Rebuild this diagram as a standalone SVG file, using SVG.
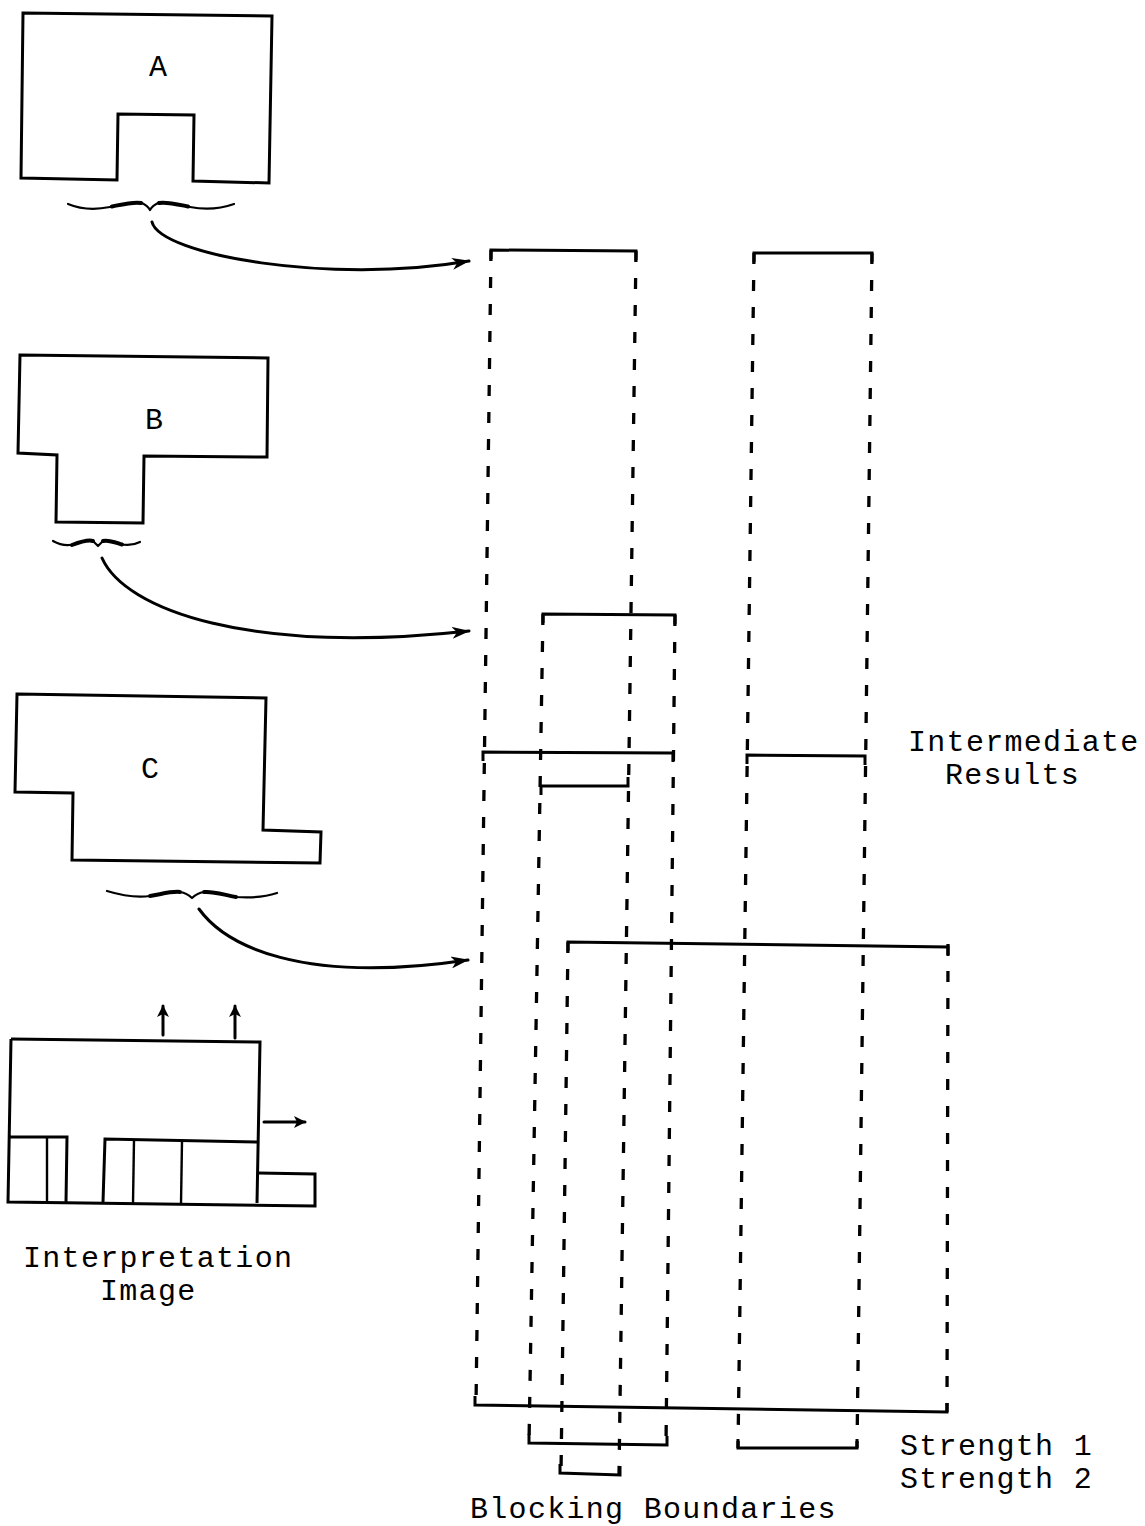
<svg xmlns="http://www.w3.org/2000/svg" width="1145" height="1526" viewBox="0 0 1145 1526">
  <defs>
    <style>
      .outline { fill: none; stroke: #000; stroke-width: 3; stroke-linejoin: miter; }
      .thin { fill: none; stroke: #000; stroke-width: 2.4; }
      .brace { fill: none; stroke: #000; stroke-width: 2.2; stroke-linecap: round; stroke-linejoin: round; }
      .brace-bold { fill: none; stroke: #000; stroke-width: 4; stroke-linecap: round; }
      .bracket { fill: none; stroke: #000; stroke-width: 3; stroke-linejoin: miter; }
      .dash { fill: none; stroke: #000; stroke-width: 3.3; stroke-dasharray: 11 16; }
      .curve { fill: none; stroke: #000; stroke-width: 3; stroke-linecap: round; }
      .label { font-family: "Liberation Mono", "DejaVu Sans Mono", monospace; font-size: 30px; letter-spacing: 1.3px; fill: #000; }
    </style>
    <marker id="head" viewBox="0 0 18 12" refX="17" refY="6" markerWidth="18" markerHeight="12" markerUnits="userSpaceOnUse" orient="auto">
      <path d="M0,0 L18,6 L0,12 L5,6 Z" fill="#000"/>
    </marker>
    <marker id="small-head" viewBox="0 0 12 12" refX="11" refY="6" markerWidth="12" markerHeight="12" markerUnits="userSpaceOnUse" orient="auto">
      <path d="M0,0 L12,6 L0,12 L3,6 Z" fill="#000"/>
    </marker>
  </defs>

  <rect width="1145" height="1526" fill="#fff"/>

  <!-- Region A with its brace -->
  <g id="shape-a">
    <path class="outline" d="M23,13 L272,16 L269,183 L193,181 L194,115 L118,114 L117,180 L21,178 Z"/>
    <text class="label" x="149" y="76">A</text>
    <path class="brace" d="M68,204 C80,209 95,210 110,207 C125,204 135,201 142,203 C146,205 149,208 150,210 C151,208 154,205 158,203 C165,201 175,204 190,207 C205,210 220,209 234,204"/>
    <path class="brace-bold" d="M112,206.5 C124,204 134,201.5 141,203 M159,203 C166,201.5 176,204 188,206.5"/>
  </g>

  <!-- Region B with its brace -->
  <g id="shape-b">
    <path class="outline" d="M20,355 L268,358 L267,457 L144,456 L143,523 L56,522 L57,455 L18,453 Z"/>
    <text class="label" x="145" y="429">B</text>
    <path class="brace" d="M53,541 C60,545 68,546 76,544 C84,541 90,539 94,542 L98,546 L102,542 C106,539 112,541 120,544 C128,546 134,545 140,542"/>
    <path class="brace-bold" d="M72,545 C80,542 88,539.5 93,541 M103,541 C108,539.5 114,542 122,544.5"/>
  </g>

  <!-- Region C with its brace -->
  <g id="shape-c">
    <path class="outline" d="M17,694 L266,698 L263,830 L321,832 L320,863 L72,860 L73,793 L15,792 Z"/>
    <text class="label" x="141" y="778">C</text>
    <path class="brace" d="M107,891 C120,895 135,898 150,896 C162,894 172,891 180,892 C186,893 190,896 192,898 C194,896 198,893 204,892 C214,891 224,895 236,897 C250,898 265,897 277,893"/>
    <path class="brace-bold" d="M150,896 C162,894 172,891 180,892 M204,892 C214,891 224,895 236,897"/>
  </g>

  <!-- Interpretation image -->
  <g id="interpretation-image">
    <path class="outline" d="M11,1039 L260,1042 L257,1203"/>
    <path class="outline" d="M11,1039 L8,1202 L315,1206 L315,1174 L258,1173"/>
    <path class="outline" d="M9,1137 L67,1137 L66,1202"/>
    <path class="outline" d="M103,1202 L105,1139 L258,1142"/>
    <line class="thin" x1="47" y1="1137" x2="47" y2="1202"/>
    <line class="thin" x1="134" y1="1140" x2="133" y2="1203"/>
    <line class="thin" x1="182" y1="1141" x2="181" y2="1204"/>
    <line class="curve" x1="163" y1="1035" x2="163" y2="1006" marker-end="url(#small-head)"/>
    <line class="curve" x1="235" y1="1038" x2="235" y2="1006" marker-end="url(#small-head)"/>
    <line class="curve" x1="264" y1="1122" x2="305" y2="1122" marker-end="url(#small-head)"/>
    <text class="label" x="23" y="1267">Interpretation</text>
    <text class="label" x="100" y="1300">Image</text>
  </g>

  <!-- Intermediate result columns: dashed extents and solid interval brackets -->
  <g id="result-columns">
    <line class="dash" x1="491" y1="250" x2="476" y2="1405"/>
    <line class="dash" x1="636" y1="251" x2="619" y2="1475"/>
    <line class="dash" x1="754" y1="253" x2="738" y2="1448"/>
    <line class="dash" x1="872" y1="253" x2="857" y2="1448"/>
    <line class="dash" x1="543" y1="614" x2="529" y2="1443"/>
    <line class="dash" x1="675" y1="615" x2="666" y2="1445"/>
    <line class="dash" x1="568" y1="942" x2="561" y2="1473"/>
    <line class="dash" x1="948" y1="944" x2="947" y2="1412"/>

    <path class="bracket" d="M491,259 L491,250 L636,251 L636,260"/>
    <path class="bracket" d="M754,262 L754,253 L872,253 L872,262"/>
    <path class="bracket" d="M543,623 L543,614 L675,615 L675,624"/>
    <path class="bracket" d="M483,761 L483,752 L673,753 L673,762"/>
    <path class="bracket" d="M747,764 L747,755 L865,756 L865,765"/>
    <path class="bracket" d="M541,795 L541,786 L628,786 L628,777"/>
    <path class="bracket" d="M568,951 L568,942 L948,947 L948,956"/>

    <path class="bracket" d="M475,1396 L475,1405 L947,1412 L947,1403"/>
    <path class="bracket" d="M529,1434 L529,1443 L667,1445 L667,1436"/>
    <path class="bracket" d="M738,1439 L738,1448 L857,1448 L857,1439"/>
    <path class="bracket" d="M560,1464 L560,1473 L620,1475 L620,1466"/>

    <text class="label" x="908" y="751">Intermediate</text>
    <text class="label" x="945" y="784">Results</text>
    <text class="label" x="900" y="1455">Strength 1</text>
    <text class="label" x="900" y="1488">Strength 2</text>
    <text class="label" x="470" y="1518">Blocking Boundaries</text>
  </g>

  <!-- Connectors from each brace to its result -->
  <g id="connectors">
    <path class="curve" d="M152,222 C160,255 330,285 469,261" marker-end="url(#head)"/>
    <path class="curve" d="M102,558 C125,610 250,655 469,631" marker-end="url(#head)"/>
    <path class="curve" d="M199,909 C225,945 300,985 468,960" marker-end="url(#head)"/>
  </g>
</svg>
